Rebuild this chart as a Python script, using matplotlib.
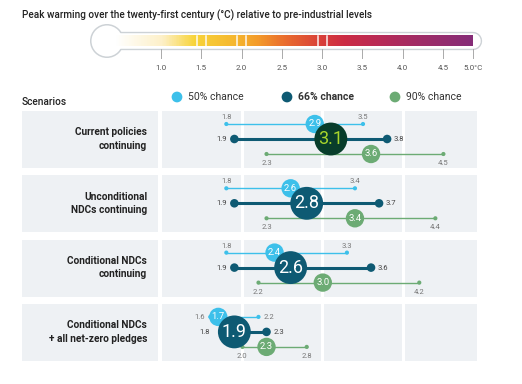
import matplotlib
matplotlib.use('Agg')
import matplotlib.pyplot as plt
import numpy as np
from matplotlib.colors import LinearSegmentedColormap
from matplotlib.patches import Rectangle

plt.rcParams['font.family'] = ['Roboto', 'DejaVu Sans']

# data
scenarios = ['Current policies\ncontinuing', 'Unconditional\nNDCs continuing',
             'Conditional NDCs\ncontinuing', 'Conditional NDCs\n+ all net-zero pledges']
low50 = [1.8, 1.8, 1.8, 1.6]
mid50 = [2.9, 2.6, 2.4, 1.7]
high50 = [3.5, 3.4, 3.3, 2.2]
low66 = [1.9, 1.9, 1.9, 1.8]
mid66 = [3.1, 2.8, 2.6, 1.9]
high66 = [3.8, 3.7, 3.6, 2.3]
low90 = [2.3, 2.3, 2.2, 2.0]
mid90 = [3.6, 3.4, 3.0, 2.3]
high90 = [4.5, 4.4, 4.2, 2.8]
highlight = [True, False, False, False]
thermo_ticks = [1.0, 1.5, 2.0, 2.5, 3.0, 3.5, 4.0, 4.5, 5.0]
thermo_labels = ['1.0', '1.5', '2.0', '2.5', '3.0', '3.5', '4.0', '4.5', '5.0°C']
thermo_marks = [1.5, 2.0, 3.0]

c50 = '#3dc0ea'
c66 = '#0e5a73'
c90 = '#6cab74'
panel = '#eef1f4'
gray = '#777777'

W, H = 522, 384
fig = plt.figure(figsize=(W / 100, H / 100), dpi=100)


def px_axes(x0, y0, x1, y1):
    return fig.add_axes([x0 / W, 1 - y1 / H, (x1 - x0) / W, (y1 - y0) / H])


# overlay for title / legend
top = px_axes(0, 0, W, H)
top.set_xlim(0, W)
top.set_ylim(H, 0)
top.axis('off')
top.text(22, 15, 'Peak warming over the twenty-first century (°C) relative to pre-industrial levels',
         fontsize=7.2, fontweight='medium', color='#222222', va='center')
top.text(22, 102, 'Scenarios', fontsize=7.3, fontweight='medium', color='#222222', va='center')
for xx, col, lab, wt in [(177, c50, '50% chance', 'normal'), (287, c66, '66% chance', 'bold'),
                         (395, c90, '90% chance', 'normal')]:
    top.scatter([xx], [97], s=60, color=col, edgecolor='none')
    top.text(xx + 11, 97, lab, fontsize=7.5, fontweight=wt, color='#333333', va='center')

# thermometer
ppd = 80.57
th = px_axes(90, 18, 492, 62)
x0 = 1.0 - 71 / ppd
th.set_xlim(x0, x0 + 402 / ppd)
th.set_ylim(62, 18)
th.axis('off')
bulb_x = 1.0 - (161 - 107) / ppd
bar_end = 1.0 + (473 - 161) / ppd
th.plot([bulb_x, bar_end], [41, 41], color='#cdd2d6', lw=13.2, solid_capstyle='round', zorder=1)
th.scatter([bulb_x], [41], s=24.5 ** 2, color='#cdd2d6', edgecolor='none', zorder=1)
th.plot([bulb_x, bar_end], [41, 41], color='white', lw=11.2, solid_capstyle='round', zorder=2)
th.scatter([bulb_x], [41], s=22.3 ** 2, color='white', edgecolor='none', zorder=2)
stops = [(0.0, '#ffffff'), (0.13, '#fdf0c8'), (0.22, '#f8d43a'), (0.34, '#f5b52e'),
         (0.40, '#f39a2a'), (0.47, '#ea6f2e'), (0.58, '#d83e3a'), (0.64, '#cc2c44'),
         (0.74, '#b82a56'), (0.85, '#a02c66'), (1.0, '#862d78')]
cmap = LinearSegmentedColormap.from_list('therm', stops)
bar_start = 1.0 - (161 - 115) / ppd
th.imshow(np.linspace(0, 1, 400).reshape(1, -1), cmap=cmap, aspect='auto',
          extent=(bar_start, bar_end, 46, 35.5), zorder=3, interpolation='bilinear')
for m in thermo_marks:
    for d in (-0.055, 0.055):
        th.plot([m + d, m + d], [35.5, 46], color='white', lw=1.1, alpha=0.9, zorder=4)
for t, lab in zip(thermo_ticks, thermo_labels):
    tx = min(t, bar_end)
    th.plot([tx, tx], [49, 58], color='#aaaaaa', lw=0.7, zorder=4)
    th.text(tx, 68.5, lab, fontsize=5.8, color='#555555', ha='center', va='center', clip_on=False)

# rows
pitch = 64.3
rh = 57 / pitch
ytop, ybot = 111, 361
ylim_max = (ybot - ytop) / pitch
xmin, xmax = 1.0, 1.0 + (477 - 162) / 80.4

lab_ax = px_axes(22, ytop, 158, ybot)
lab_ax.set_xlim(0, 1)
lab_ax.set_ylim(ylim_max, 0)
lab_ax.axis('off')

ax = px_axes(162, ytop, 477, ybot)
ax.set_xlim(xmin, xmax)
ax.set_ylim(ylim_max, 0)
ax.axis('off')

gap = 0.02
cols = [(1.0, 2.0), (2.0, 3.0), (3.0, 4.0), (4.0, xmax)]
o50, o66, o90 = 13 / pitch, 28 / pitch, 43 / pitch
fs_small = 5.5

for i, name in enumerate(scenarios):
    lab_ax.add_patch(Rectangle((0, i), 1, rh, color=panel, lw=0))
    lab_ax.text(0.92, i + o66, name, ha='right', va='center', fontsize=7.3,
                fontweight='bold', color='#222222', linespacing=1.4)
    for a, b in cols:
        l = a + gap if a > xmin else a
        r = b - gap if b < xmax else b
        ax.add_patch(Rectangle((l, i), r - l, rh, color=panel, lw=0, zorder=0))

    last = i == len(scenarios) - 1
    # 90% chance
    y = i + o90
    ax.plot([low90[i], high90[i]], [y, y], color=c90, lw=1.0, zorder=2)
    ax.scatter([low90[i], high90[i]], [y, y], s=9, color=c90, zorder=2, edgecolor='none')
    for v in (low90[i], high90[i]):
        ax.annotate(f'{v:.1f}', (v, y), xytext=(0, -6.5), textcoords='offset points',
                    ha='center', va='center', fontsize=fs_small, color=gray)
    ax.scatter([mid90[i]], [y], s=175, color=c90, zorder=3, edgecolor='none')
    ax.text(mid90[i], y, f'{mid90[i]:.1f}', ha='center', va='center', fontsize=6.8,
            color='white', zorder=4)

    # 50% chance
    y = i + o50
    ax.plot([low50[i], high50[i]], [y, y], color=c50, lw=1.0, zorder=2)
    ax.scatter([low50[i], high50[i]], [y, y], s=9, color=c50, zorder=2, edgecolor='none')
    if last:
        ax.annotate(f'{low50[i]:.1f}', (low50[i], y), xytext=(-4, 0), textcoords='offset points',
                    ha='right', va='center', fontsize=fs_small, color=gray)
        ax.annotate(f'{high50[i]:.1f}', (high50[i], y), xytext=(4, 0), textcoords='offset points',
                    ha='left', va='center', fontsize=fs_small, color=gray)
    else:
        for v in (low50[i], high50[i]):
            ax.annotate(f'{v:.1f}', (v, y), xytext=(0, 5), textcoords='offset points',
                        ha='center', va='center', fontsize=fs_small, color=gray)
    ax.scatter([mid50[i]], [y], s=175, color=c50, zorder=3, edgecolor='none')
    ax.text(mid50[i], y, f'{mid50[i]:.1f}', ha='center', va='center', fontsize=6.8,
            color='white', zorder=4)

    # 66% chance
    y = i + o66
    ax.plot([low66[i], high66[i]], [y, y], color=c66, lw=2.2, zorder=5)
    ax.scatter([low66[i], high66[i]], [y, y], s=38, color=c66, zorder=5, edgecolor='none')
    # keep the low label clear of the big circle when they overlap
    dx = -5 if (mid66[i] - low66[i]) > 0.25 else -5 - 80.4 * 0.72 * (0.25 - (mid66[i] - low66[i])) * 0.8
    ax.annotate(f'{low66[i]:.1f}', (low66[i], y), xytext=(dx, 0), textcoords='offset points',
                ha='right', va='center', fontsize=fs_small, color='#444444')
    ax.annotate(f'{high66[i]:.1f}', (high66[i], y), xytext=(5, 0), textcoords='offset points',
                ha='left', va='center', fontsize=fs_small, color='#444444')
    fc, tc = ('#083d2b', '#a8d62c') if highlight[i] else (c66, 'white')
    ax.scatter([mid66[i]], [y], s=560, color=fc, zorder=6, edgecolor='none')
    ax.text(mid66[i], y, f'{mid66[i]:.1f}', ha='center', va='center', fontsize=13,
            color=tc, zorder=7)

fig.savefig('out.png', dpi=100)
